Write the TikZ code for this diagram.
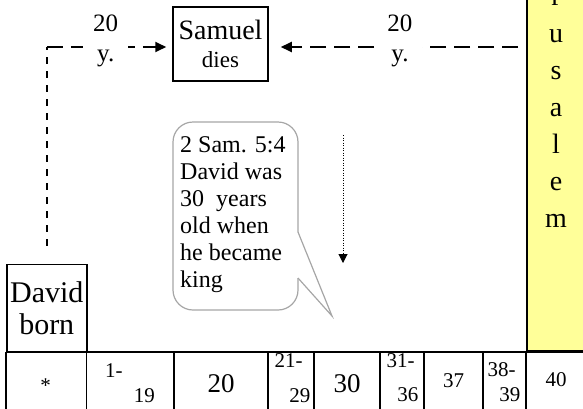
\documentclass[tikz,border=0pt]{standalone}
\usepackage{fontspec}
\setmainfont{Liberation Serif}
\usetikzlibrary{arrows.meta, positioning, calc}
\definecolor{cityfill}{HTML}{FFFF99}
\definecolor{notegray}{HTML}{A6A6A6}

\begin{document}
\begin{tikzpicture}[x=1pt, y=-1pt,
    every node/.style={font=\fontsize{21}{25}\selectfont},
    eventbox/.style={rectangle, draw, line width=1.5pt, align=center, inner sep=2pt},
    yearline/.style={line width=1.8pt, dash pattern=on 16pt off 8pt},
    vline/.style={line width=1.8pt, dash pattern=on 7pt off 7pt},
    dashtip/.style={-{Triangle[length=11pt, width=10pt]}},
    gridline/.style={line width=1.6pt},
    bignum/.style={font=\fontsize{27}{30}\selectfont},
    ylabel/.style={fill=white, align=center, inner xsep=10pt, inner ysep=0pt,
                   font=\fontsize{25}{30}\selectfont},
    notetext/.style={align=left, inner sep=0pt, font=\fontsize{24}{27}\selectfont}
]
    \useasboundingbox (0,0) rectangle (583,408);
    \clip (0,0) rectangle (583,408);

    % city column
    \node[draw, fill=cityfill, line width=1.6pt, inner sep=0pt,
          minimum width=60pt, minimum height=440pt, anchor=south west] (citycol) at (526,352) {};
    \node[align=center, inner sep=0pt, anchor=south,
          font=\fontsize{28}{37}\selectfont] (city) at (556,228) {J\\e\\r\\u\\s\\a\\l\\e\\m};

    % events
    \node[eventbox, minimum width=95pt, minimum height=74pt,
          font=\fontsize{28}{28}\selectfont] (samuel) at (220.5,44)
        {Samuel\\{\fontsize{23}{28}\selectfont dies}};
    \node[eventbox, minimum width=80pt, minimum height=87pt, anchor=south west,
          font=\fontsize{30}{32}\selectfont] (born) at (6,352) {David\\born};

    % timeline row
    \draw[gridline] (6,352) -- (590,352);
    \foreach \x in {6,86.5,174,268,314,380,424,483,526}
        \draw[gridline] (\x,352) -- (\x,412);
    \node[anchor=base] (cstar) at (45.5,392) {*};
    \foreach \x/\y/\t [count=\i] in {221/392/20, 347/392/30}
        \node[bignum, anchor=base] (cbig\i) at (\x,\y) {\t};
    \foreach \x/\y/\t [count=\i] in {453.5/387/37, 556/386/40}
        \node[anchor=base] (cone\i) at (\x,\y) {\t};
    \foreach \xa/\ya/\ta/\xb/\yb/\tb [count=\i] in
        {105/377/1-/155/402/19, 274.5/367/21-/310.5/402/29,
         386.5/367/31-/418.5/401/36, 487.5/376/38-/520.5/401/39}
    {
        \node[anchor=base west, inner sep=0pt] (ctop\i) at (\xa,\ya) {\ta};
        \node[anchor=base east, inner sep=0pt] (cbot\i) at (\xb,\yb) {\tb};
    }

    % 20 years on each side
    \coordinate (sin) at ([yshift=-3pt]samuel.west);
    \coordinate (sout) at ([yshift=-3pt]samuel.east);
    \draw[vline] ([yshift=18pt]born.north) -- (born.north |- sin);
    \draw[yearline, dashtip, shorten >=6pt] (born.north |- sin) --
        node[ylabel, pos=0.47, yshift=6pt] (leftyears) {20\\y.} (sin);
    \draw[yearline, dashtip, shorten >=12pt, shorten <=8pt] (sout -| citycol.west) --
        node[ylabel, pos=0.49, yshift=6pt] (rightyears) {20\\y.} (sout);

    % callout
    \node[notetext, anchor=north west] (note) at (180,136.5)
        {2 Sam. 5:4\\David was\\30\ \ years\\old when\\he became\\king};
    \draw[notegray, line width=1.2pt, rounded corners=20pt]
        (298,232) -- (298,122) -- (173,122) -- (173,310) -- (298,310) -- (298,278);
    \draw[notegray, line width=1.2pt] (298,232) -- (332,316) -- (298,278);

    \coordinate (droptop) at (343,135);
    \coordinate (dropend) at (343,263);
    \draw[line width=1pt, dash pattern=on 1pt off 1.5pt,
          -{Triangle[length=9pt, width=9pt]}] (droptop) -- (dropend);
\end{tikzpicture}
\end{document}
